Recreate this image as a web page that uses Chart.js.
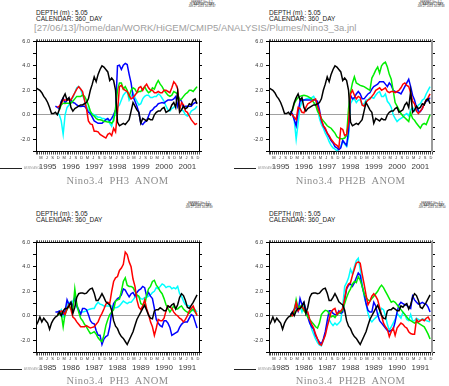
<!DOCTYPE html>
<html lang="en">
<head>
<meta charset="UTF-8">
<title>Nino3.4 plumes</title>
<script src="https://cdn.jsdelivr.net/npm/chart.js"></script>
<style>
  html, body { margin: 0; padding: 0; background: #fff; overflow: hidden; }
  body { width: 449px; height: 386px; position: relative; font-family: "Liberation Sans", Arial, sans-serif; }
  .t { position: absolute; white-space: pre; line-height: 1; }
  .stamp { position: absolute; font-size: 2.8px; line-height: 2.4px; color: #333; text-align: center; width: 44px; white-space: pre; }
  .info { font-size: 6.5px; color: #222; }
  .title { font-family: "Liberation Serif", serif; font-size: 10.5px; color: #8c8c8c; letter-spacing: 0.4px; width: 163px; text-align: center; }
  .leg { position: absolute; height: 1.6px; background: #222; width: 22px; }
  .legt { font-size: 2.8px; color: #999; }
  canvas { position: absolute; }
</style>
</head>
<body>
<!-- ferret stamps -->
<div class="stamp" style="left:180px; top:0.5px;">FERRET Ver. 6.1
NOAA/PMEL TMAP
Jun 27 2013 16:28:47</div>
<div class="stamp" style="left:409px; top:0.5px;">FERRET Ver. 6.1
NOAA/PMEL TMAP
Jun 27 2013 16:28:48</div>
<div class="stamp" style="left:177px; top:201.5px;">FERRET Ver. 6.1
NOAA/PMEL TMAP
Jun 27 2013 16:28:49</div>
<div class="stamp" style="left:410px; top:201.5px;">FERRET Ver. 6.1
NOAA/PMEL TMAP
Jun 27 2013 16:28:50</div>

<div class="t info" style="left:36px; top:9.5px;">DEPTH (m) : 5.05</div>
<div class="t info" style="left:36px; top:15.8px;">CALENDAR: 360_DAY</div>
<div class="t info" style="left:269px; top:9.5px;">DEPTH (m) : 5.05</div>
<div class="t info" style="left:269px; top:15.8px;">CALENDAR: 360_DAY</div>
<div class="t info" style="left:36px; top:210.5px;">DEPTH (m) : 5.05</div>
<div class="t info" style="left:36px; top:217px;">CALENDAR: 360_DAY</div>
<div class="t info" style="left:269px; top:210.5px;">DEPTH (m) : 5.05</div>
<div class="t info" style="left:269px; top:217px;">CALENDAR: 360_DAY</div>

<div class="t" style="left:34px; top:23px; font-size:9.5px; color:#a0a0a0;">[27/06/13]/home/dan/WORK/HiGEM/CMIP5/ANALYSIS/Plumes/Nino3_3a.jnl</div>

<canvas id="c1" width="225" height="140" style="left:0px; top:35px;"></canvas>
<canvas id="c2" width="225" height="140" style="left:233px; top:35px;"></canvas>
<canvas id="c3" width="225" height="140" style="left:0px; top:236px;"></canvas>
<canvas id="c4" width="225" height="140" style="left:233px; top:236px;"></canvas>

<div class="leg" style="left:0px; top:167.5px;"></div>
<div class="t legt" style="left:24px; top:167.3px;">ASSIM ANOM</div>
<div class="leg" style="left:234px; top:167.5px;"></div>
<div class="t legt" style="left:258px; top:167.3px;">ASSIM ANOM</div>
<div class="leg" style="left:0px; top:368.5px;"></div>
<div class="t legt" style="left:24px; top:368.3px;">ASSIM ANOM</div>
<div class="leg" style="left:234px; top:368.5px;"></div>
<div class="t legt" style="left:258px; top:368.3px;">ASSIM ANOM</div>

<div class="t title" style="left:36px; top:175.5px;">Nino3.4  PH3  ANOM</div>
<div class="t title" style="left:269px; top:175.5px;">Nino3.4  PH2B  ANOM</div>
<div class="t title" style="left:36px; top:376px;">Nino3.4  PH3  ANOM</div>
<div class="t title" style="left:269px; top:376px;">Nino3.4  PH2B  ANOM</div>

<script>
// months since January of the first plotted year
const MONTHS = Array.from({length: 84}, (_, i) => i);
const MONTH_LETTERS = {2: 'M', 5: 'J', 8: 'S', 11: 'D'};
const Y_TICKS = [-3, -2, -1, 0, 1, 2, 3, 4, 5, 6];

// observed anomaly (black), 1995-2001
const obsLate = [2.2,2.1,2.0,1.8,1.5,1.3,1.0,0.6,0.1,0.1,
  0.2,0.0,0.4,1.0,1.4,1.7,1.2,1.4,0.6,0.3,
  0.5,0.6,0.7,0.8,0.8,0.9,1.0,1.3,2.0,2.5,
  3.1,2.7,3.3,3.7,4.0,3.9,3.7,3.5,2.8,3.0,
  2.8,2.0,-0.6,-0.9,-0.8,-0.7,-0.8,-0.6,-0.4,0.3,
  1.0,0.7,0.4,0.2,-0.7,-0.3,-0.4,-0.5,-0.3,-0.4,
  -0.4,0.0,0.2,0.3,0.3,0.5,0.6,0.2,0.3,0.4,
  0.8,1.0,0.6,1.9,0.2,0.4,0.7,0.5,0.6,0.9,
  0.8,1.2,1.3,0.9];

// observed anomaly (black), 1985-1991
const obsEarly = [-0.8,-0.5,-0.1,-0.5,-0.2,-0.4,-0.6,-1.1,-0.6,-0.3,
  -0.1,0.0,0.3,0.0,0.4,0.6,0.6,0.8,1.1,0.2,
  0.7,1.5,1.8,1.85,1.85,1.8,1.85,2.05,2.2,2.25,
  1.85,1.25,1.25,1.5,1.8,1.5,1.15,1.0,0.9,0.45,
  -0.4,-0.85,-1.05,-1.45,-1.7,-1.85,-2.1,-2.35,-2.0,-1.65,
  -1.3,-0.8,-0.3,0.0,0.3,0.6,0.85,0.45,0.05,-0.2,
  -0.25,0.4,0.5,0.5,0.65,0.55,0.4,0.4,0.8,0.7,
  0.9,1.0,0.55,0.9,1.5,1.8,1.65,1.25,0.7,0.6,
  0.85,1.1,1.4,1.7];

// PH3 plumes 1995-2001 (first month given in the start constants)
const ph3LateStart = {red: 11, green: 12, blue: 10, cyan: 11};
const ph3LateRed = [0.6,0.7,0.9,1.2,1.2,1.2,1.2,1.2,1.5,1.8,
  2.1,2.3,2.1,1.9,1.2,0.5,-0.5,-0.75,-0.8,-1.35,
  -1.35,-1.4,-1.6,-1.7,-1.8,-1.9,-1.6,-1.5,-1.7,-1.1,
  -1.4,0.2,2.3,2.4,2.1,2.0,1.9,1.6,1.3,1.4,
  1.6,1.8,2.2,2.3,2.0,2.3,2.5,2.2,2.0,2.0,
  1.8,1.8,1.9,1.8,1.8,2.0,2.0,1.9,1.8,2.2,
  2.7,2.5,2.1,0.4,1.0,0.8,0.3,0.2,-0.1,-0.4,
  -0.6,-0.8,-0.7];
const ph3LateGreen = [0.4,0.8,0.95,0.95,0.95,0.95,0.95,1.1,1.3,
  1.5,1.5,1.5,1.6,1.5,1.2,0.8,0.3,0.0,-0.1,
  -0.3,-0.4,-0.4,-0.45,-0.55,-0.55,-0.6,-0.6,-0.7,-0.5,
  0.5,2.0,2.6,2.6,2.1,2.3,2.0,1.5,2.0,2.2,
  2.1,1.8,1.9,1.9,2.1,2.3,2.0,1.8,1.9,2.2,
  2.1,2.5,2.8,2.5,2.3,2.0,1.8,1.6,1.5,1.6,
  1.9,1.8,1.7,1.2,1.3,1.5,1.7,1.8,2.0,2.0,
  1.9,2.1,2.3];
const ph3LateBlue = [0.7,
  0.6,0.5,1.1,1.35,0.95,1.2,1.35,1.2,1.0,0.95,
  0.8,0.7,0.68,0.7,0.7,0.5,0.2,0.1,-0.2,-0.5,
  -0.6,-0.7,-0.7,-0.7,-0.55,-0.4,-0.3,-0.5,-0.3,0.0,
  0.4,4.0,4.05,3.7,4.05,4.2,4.1,3.3,2.6,1.5,
  1.1,0.7,0.2,-0.7,-0.8,-0.6,-0.5,-0.1,0.3,0.4,
  0.6,0.7,0.9,0.95,1.0,0.95,1.1,1.2,1.2,1.2,
  1.3,1.5,0.7,1.3,1.1,0.6,0.7,0.7,0.7,0.7,
  0.9,1.0,0.95];
const ph3LateCyan = [0.15,0.0,-0.5,-1.6,0.0,0.6,0.8,1.2,1.4,1.8,
  2.2,2.3,2.1,1.6,1.2,0.7,0.4,0.2,0.1,0.0,
  -0.1,-0.2,-0.2,-0.3,-0.3,-0.4,-0.4,-0.7,-0.95,-0.2,
  0.0,0.6,0.8,1.2,1.6,1.8,1.9,1.2,1.5,1.8,
  1.4,1.1,0.8,0.9,1.3,1.5,1.6,1.6,1.4,1.4,
  1.5,1.5,1.7,1.6,1.35,1.1,0.7,0.4,0.3,0.5,
  0.6,0.8,0.9,0.7,0.4,0.3,0.0,-0.1,0.0,0.3,
  0.4,0.5,0.7];

// PH2B plumes 1995-2001
const ph2bLateStart = {red: 11, green: 12, blue: 11, cyan: 12};
const ph2bLateRed = [0.1,0.0,-0.2,-0.4,0.6,0.5,0.2,0.15,0.6,0.9,
  1.0,1.1,1.2,1.3,0.7,0.2,-0.4,-0.9,-1.1,-1.5,
  -1.7,-2.0,-2.2,-2.4,-2.5,-2.7,-1.1,-1.2,-1.7,-1.6,
  -0.7,1.7,2.0,1.6,1.3,1.5,1.4,0.8,0.7,1.0,
  1.2,1.3,1.5,1.7,2.0,2.1,2.2,2.0,2.1,2.2,
  1.9,1.8,1.9,1.9,1.8,1.9,2.0,2.2,2.5,2.6,
  2.4,2.3,1.8,1.1,0.9,0.3,0.1,0.3,0.5,0.9,
  1.2,1.4,1.7];
const ph2bLateGreen = [0.3,0.9,1.2,1.4,1.5,1.55,1.6,1.55,1.5,
  1.4,1.3,1.0,0.8,0.3,0.0,-0.3,-0.5,-0.7,-0.9,
  -1.0,-1.1,-1.3,-1.5,-1.8,-1.9,-1.95,-1.95,-1.9,-1.7,
  0.5,1.8,2.6,3.1,2.6,2.5,2.4,2.35,2.3,2.2,
  2.1,2.0,3.0,3.3,3.65,3.9,3.4,4.0,4.2,4.3,
  3.9,3.3,2.9,2.0,1.0,0.7,0.4,0.1,-0.1,-0.25,
  -0.4,-0.55,0.15,-0.3,-0.45,-0.7,-0.9,-1.1,-0.8,-0.7,
  -0.8,-0.4,0.0];
const ph2bLateBlue = [0.3,0.1,-0.4,-0.9,0.3,1.1,1.2,1.2,1.2,1.2,
  1.2,1.2,1.25,1.2,1.1,0.4,-0.5,-0.9,-1.2,-1.5,
  -1.8,-2.1,-2.3,-2.6,-2.7,-2.85,-2.7,-2.1,-2.3,-2.5,
  -1.3,1.6,1.3,1.4,1.7,1.9,1.7,1.3,1.3,1.5,
  1.7,1.8,2.1,2.3,2.4,2.5,2.7,2.7,2.7,2.5,
  2.3,2.6,2.4,2.0,1.9,1.85,1.8,1.7,2.0,2.3,
  2.6,2.9,2.3,1.6,1.2,0.6,0.3,0.25,0.5,0.9,
  1.1,1.2,1.4];
const ph2bLateCyan = [0.0,-0.4,-2.0,-0.7,0.6,1.1,1.2,1.3,1.35,
  1.35,1.4,1.5,1.2,0.6,-0.3,-0.8,-1.1,-1.5,-1.8,
  -2.2,-2.5,-2.7,-2.8,-2.95,-2.8,-2.6,-2.1,-2.4,-2.6,
  -1.8,0.9,1.2,1.3,1.0,1.2,1.2,0.8,0.9,1.2,
  1.2,1.4,1.4,1.35,1.6,1.8,1.9,1.5,1.5,1.7,
  1.1,0.9,0.6,0.0,-0.3,-0.55,-0.4,-0.3,-0.2,0.0,
  0.1,-0.1,0.4,0.6,0.3,0.5,0.8,0.9,1.2,1.3,
  1.7,2.0,2.3];

// PH3 plumes 1985-1991
const ph3EarlyStart = {red: 11, green: 11, blue: 10, cyan: 11};
const ph3EarlyRed = [0.1,0.25,0.4,0.3,0.1,0.6,0.9,0.5,-0.1,-0.25,
  -0.5,-0.7,-0.9,-0.9,-0.9,-0.8,-0.9,-1.0,-0.95,-0.9,
  -0.7,-0.5,-0.1,0.2,0.55,0.95,1.1,1.0,2.0,2.8,
  3.1,3.2,3.7,3.9,4.2,5.2,5.0,4.4,4.0,3.0,
  2.4,1.3,0.7,0.5,0.8,1.3,0.6,0.1,-0.5,-0.9,
  -1.6,-1.0,-0.3,-0.4,-0.4,-0.2,0.4,0.8,0.7,0.6,
  0.3,0.1,0.0,-0.2,-0.3,-0.5,-0.3,0.0,0.4,0.6,
  0.8,0.4,0.0];
const ph3EarlyGreen = [0.0,0.15,0.2,-0.9,0.2,0.5,0.8,0.6,0.4,2.2,
  1.0,0.3,-0.2,-0.4,-0.7,-0.9,-1.2,-1.45,-1.4,-1.3,
  -1.5,-1.8,-2.0,-2.1,-1.6,-0.8,-0.3,0.1,0.3,0.5,
  1.2,1.3,1.35,2.0,2.8,3.1,2.5,2.4,2.4,2.3,
  2.0,1.7,1.6,1.0,0.9,0.8,1.7,2.2,2.4,2.8,
  2.9,2.5,2.3,2.0,1.8,1.4,0.9,0.6,0.3,0.55,
  0.8,0.55,0.55,0.7,0.8,0.55,0.4,0.3,0.2,0.4,
  0.55,0.3,0.1];
const ph3EarlyBlue = [0.3,
  0.3,0.4,0.2,0.1,0.4,1.3,0.9,1.1,0.8,1.5,
  0.8,0.5,0.1,0.6,0.6,0.5,0.1,-0.4,-0.6,-0.65,
  -1.2,-1.6,-1.6,-2.35,-1.9,-1.7,-1.6,-0.9,0.3,1.0,
  1.2,1.4,1.5,1.7,2.2,2.1,1.8,1.55,1.8,1.9,
  1.6,1.9,2.1,2.2,2.4,2.3,1.6,1.9,1.6,1.4,
  0.6,-0.3,-0.6,-0.8,-0.9,-0.4,-0.4,-0.6,-0.95,-1.6,
  -1.5,-1.4,-1.3,-0.95,-0.7,-0.55,-0.5,-0.5,-0.2,0.1,
  0.0,-0.5,-1.0];
const ph3EarlyCyan = [0.2,0.3,0.5,-0.1,0.0,0.8,1.1,1.0,1.2,1.5,
  0.7,0.4,0.3,0.3,0.35,0.4,0.5,0.55,0.6,0.6,
  0.9,1.1,0.95,0.9,0.8,0.8,0.8,0.8,0.8,0.7,
  0.65,0.7,0.8,1.0,1.2,1.1,1.0,1.1,1.1,1.3,
  1.5,1.6,1.55,1.4,1.35,1.5,1.5,1.6,1.7,1.9,
  2.0,2.3,2.2,2.4,2.6,2.5,2.3,2.4,2.4,2.2,
  2.3,2.2,2.4,1.8,1.6,1.2,0.9,0.85,0.8,0.6,
  0.4,0.5,0.3];

// PH2B plumes 1985-1991
const ph2bEarlyStart = {red: 11, green: 11, blue: 11, cyan: 11};
const ph2bEarlyRed = [0.1,0.0,0.5,1.1,0.4,0.6,0.8,0.5,0.3,0.3,
  -0.3,-0.7,-1.0,-1.5,-1.9,-2.3,-2.4,-2.0,-1.6,-0.9,
  -0.3,0.3,0.5,0.6,0.1,0.3,0.4,0.6,1.4,2.3,
  2.6,2.7,3.3,3.8,4.3,4.4,4.3,3.4,2.6,1.7,
  0.9,1.2,1.6,1.8,1.6,1.3,0.7,0.0,-0.6,-0.9,
  -1.1,-1.7,-1.3,-1.0,-1.6,-1.0,-0.8,-0.6,-0.7,-0.9,
  -1.0,-1.3,-1.45,-1.5,-1.5,-0.3,-0.5,-0.4,-0.3,-0.4,
  -0.2,-0.1,-0.4];
const ph2bEarlyGreen = [-0.1,0.1,0.2,1.3,0.6,0.8,0.7,0.4,0.2,-0.1,
  -0.3,-0.5,-0.7,-0.9,-1.0,-0.6,0.1,0.3,0.45,0.4,
  0.2,-0.1,0.0,-0.15,0.1,0.2,0.3,0.5,1.0,1.5,
  1.9,2.2,2.6,2.8,2.7,3.2,2.9,2.4,1.8,1.5,
  1.3,1.2,1.4,1.6,1.8,2.0,2.3,2.5,2.3,2.0,
  1.7,1.4,1.1,1.2,1.1,0.9,0.7,0.5,0.3,0.1,
  -0.1,-0.3,-0.4,-0.5,-0.6,-0.5,-0.6,-0.7,-0.8,-0.9,
  -1.2,-1.5,-1.9];
const ph2bEarlyBlue = [0.1,0.25,0.5,0.75,0.4,1.4,0.9,1.1,0.5,-0.1,
  -0.6,-0.9,-1.1,-1.6,-1.9,-2.15,-2.3,-1.9,-1.3,-0.4,
  0.4,0.4,0.2,0.1,0.05,0.4,0.2,0.3,1.3,2.2,
  2.5,2.6,2.4,2.7,3.1,3.5,3.3,2.4,1.8,1.0,
  0.45,0.3,0.3,1.1,0.8,0.1,-0.4,-0.6,-0.8,-1.0,
  -1.2,-1.3,-1.2,-1.1,-0.5,0.3,0.9,1.1,1.0,0.9,
  0.85,0.7,0.6,1.6,1.3,1.1,0.95,1.0,1.1,1.0,
  0.95,0.7,0.3];
const ph2bEarlyCyan = [0.0,0.1,0.6,1.2,0.6,0.8,0.3,0.8,0.4,0.0,
  -0.5,-1.1,-1.5,-1.9,-2.2,-2.4,-2.45,-2.0,-1.5,-0.7,
  -0.3,-0.6,-0.8,-0.6,-0.75,-0.6,-0.4,0.8,2.4,2.7,
  3.1,3.8,3.4,4.0,4.5,4.7,3.8,2.6,1.6,1.0,
  0.2,-0.3,-0.5,-0.3,-0.15,0.0,0.3,0.6,0.5,0.0,
  -0.7,-1.2,-0.9,-0.6,-0.3,0.2,0.0,-0.2,0.3,0.1,
  -0.3,-0.4,0.1,-0.4,-0.4,-0.2,-0.3,-0.4,-0.25,-0.3,
  -0.4,-0.45,-0.5];

const COLORS = {obs: '#000000', red: '#ff0000', green: '#00ee00', blue: '#0000ff', cyan: '#00ffff'};

// put nulls before the first forecast month
function lead(n, vals) {
  return Array(n).fill(null).concat(vals);
}

function line(data, color) {
  return {data: data, borderColor: color, borderWidth: 1.5, pointRadius: 0, tension: 0, fill: false, spanGaps: false};
}

function yLabel(v) {
  return Math.round(v) % 2 === 0 ? v.toFixed(1) : '';
}

function makePanel(id, firstYear, obs, start, red, green, blue, cyan, grayEdge) {
  const letterTicks = [];
  const yearTicks = [];
  for (let y = 0; y < 7; y++) {
    [2, 5, 8, 11].forEach(m => letterTicks.push({value: y * 12 + m + 0.5}));
    yearTicks.push({value: y * 12 + 6});
  }
  const monthEdges = Array.from({length: 85}, (_, i) => ({value: i}));
  const yTicks = Y_TICKS.map(v => ({value: v}));

  new Chart(document.getElementById(id), {
    type: 'line',
    data: {
      labels: MONTHS,
      datasets: [
        line(obs, COLORS.obs),
        line(lead(start.red, red), COLORS.red),
        line(lead(start.green, green), COLORS.green),
        line(lead(start.blue, blue), COLORS.blue),
        line(lead(start.cyan, cyan), COLORS.cyan)
      ]
    },
    options: {
      responsive: false,
      animation: false,
      events: [],
      layout: {padding: {top: 0, left: 0, right: 23, bottom: 3.5}},
      plugins: {legend: {display: false}, tooltip: {enabled: false}, title: {display: false}},
      scales: {
        x: {
          type: 'linear', position: 'bottom', min: 0, max: 84, weight: 0,
          afterBuildTicks: s => { s.ticks = monthEdges.map(t => ({value: t.value})); },
          ticks: {display: false},
          grid: {drawOnChartArea: false, tickLength: 3, color: '#000', lineWidth: 0.7},
          border: {color: '#000', width: 1},
          afterFit: s => { s.height = 3; }
        },
        xm: {
          type: 'linear', position: 'bottom', min: 0, max: 84, weight: 1,
          afterBuildTicks: s => { s.ticks = letterTicks.map(t => ({value: t.value})); },
          afterTickToLabelConversion: s => {
            s.ticks.forEach(t => { t.label = MONTH_LETTERS[Math.round(t.value - 0.5) % 12]; });
          },
          ticks: {autoSkip: false, maxRotation: 0, minRotation: 0, padding: 0.5, color: '#333',
            font: {size: 4, family: 'Liberation Sans'}},
          grid: {display: false, drawTicks: false},
          border: {display: false},
          afterFit: s => { s.height = 7; }
        },
        xy: {
          type: 'linear', position: 'bottom', min: 0, max: 84, weight: 2,
          afterBuildTicks: s => { s.ticks = yearTicks.map(t => ({value: t.value})); },
          afterTickToLabelConversion: s => {
            s.ticks.forEach(t => { t.label = String(firstYear + Math.floor(t.value / 12)); });
          },
          ticks: {autoSkip: false, maxRotation: 0, minRotation: 0, padding: 0, color: '#3a3a3a',
            font: {size: 8, family: 'Liberation Sans'}},
          grid: {display: false, drawTicks: false},
          border: {display: false},
          afterFit: s => { s.height = 10; }
        },
        xt: {
          type: 'linear', position: 'top', min: 0, max: 84,
          afterBuildTicks: s => { s.ticks = monthEdges.map(t => ({value: t.value})); },
          ticks: {display: false},
          grid: {drawOnChartArea: false, tickLength: 2, color: '#000', lineWidth: 0.7},
          border: {color: '#000', width: 1},
          afterFit: s => { s.height = 5.5; }
        },
        y: {
          type: 'linear', position: 'left', min: -3, max: 6,
          afterBuildTicks: s => { s.ticks = yTicks.map(t => ({value: t.value})); },
          afterTickToLabelConversion: s => {
            s.ticks.forEach(t => { t.label = yLabel(t.value); });
          },
          ticks: {padding: 3, color: '#333', font: {size: 5.5, family: 'Liberation Sans'}},
          grid: {
            color: c => (c.tick && c.tick.value === 0 ? '#a0a0a0' : 'rgba(0,0,0,0)'),
            tickColor: '#000', tickLength: 3, lineWidth: 1
          },
          border: {color: '#000', width: 1},
          afterFit: s => { s.width = 36; }
        },
        yr: {
          type: 'linear', position: 'right', min: -3, max: 6,
          afterBuildTicks: s => { s.ticks = yTicks.map(t => ({value: t.value})); },
          ticks: {display: false},
          grid: {drawOnChartArea: false, tickLength: 3, color: '#000'},
          border: {color: grayEdge ? '#9a9a9a' : '#000', width: grayEdge ? 2 : 1},
          afterFit: s => { s.width = 3; }
        }
      }
    }
  });
}

makePanel('c1', 1995, obsLate, ph3LateStart, ph3LateRed, ph3LateGreen, ph3LateBlue, ph3LateCyan, false);
makePanel('c2', 1995, obsLate, ph2bLateStart, ph2bLateRed, ph2bLateGreen, ph2bLateBlue, ph2bLateCyan, true);
makePanel('c3', 1985, obsEarly, ph3EarlyStart, ph3EarlyRed, ph3EarlyGreen, ph3EarlyBlue, ph3EarlyCyan, false);
makePanel('c4', 1985, obsEarly, ph2bEarlyStart, ph2bEarlyRed, ph2bEarlyGreen, ph2bEarlyBlue, ph2bEarlyCyan, true);
</script>
</body>
</html>
